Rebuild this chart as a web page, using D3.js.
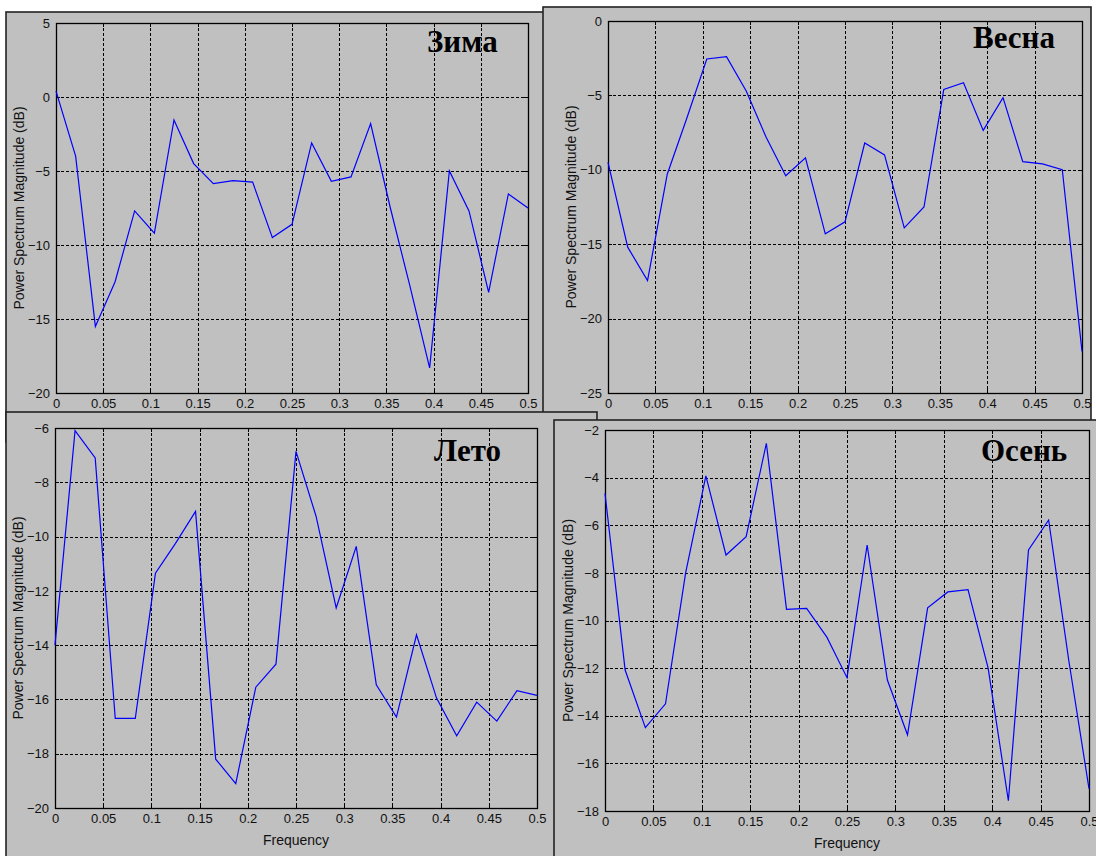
<!DOCTYPE html>
<html><head><meta charset="utf-8">
<script src="https://cdn.jsdelivr.net/npm/d3@7"></script>
<style>body{margin:0;background:#fff;overflow:hidden} svg{display:block}</style>
</head><body>
<svg id="c" width="1096" height="856"></svg>
<script>
// ---- data ----
const frequency = [0, 0.0208, 0.0417, 0.0625, 0.0833, 0.1042, 0.125, 0.1458, 0.1667, 0.1875,
  0.2083, 0.2292, 0.25, 0.2708, 0.2917, 0.3125, 0.3333, 0.3542, 0.375, 0.3958,
  0.4167, 0.4375, 0.4583, 0.4792, 0.5];
const winter = [0.4, -4.0, -15.5, -12.5, -7.7, -9.2, -1.55, -4.5, -5.85, -5.65, -5.75, -9.5, -8.6,
  -3.1, -5.7, -5.4, -1.8, -7.5, -12.8, -18.3, -5.0, -7.7, -13.2, -6.55, -7.5];
const spring = [-9.5, -15.2, -17.45, -10.3, -6.5, -2.55, -2.4, -4.7, -7.8, -10.4, -9.2, -14.3, -13.5,
  -8.2, -9.0, -13.9, -12.5, -4.6, -4.15, -7.35, -5.15, -9.45, -9.6, -10.0, -22.2];
const summer = [-14.0, -6.1, -7.1, -16.7, -16.7, -11.35, -10.25, -9.07, -18.2, -19.1, -15.55, -14.7, -6.86,
  -9.25, -12.63, -10.36, -15.46, -16.65, -13.62, -15.95, -17.34, -16.1, -16.8, -15.68, -15.85];
const autumn = [-4.66, -12.08, -14.5, -13.5, -8.0, -3.93, -7.25, -6.48, -2.56, -9.53, -9.49, -10.7, -12.4,
  -6.83, -12.5, -14.8, -9.47, -8.8, -8.7, -12.0, -17.57, -7.04, -5.78, -11.7, -17.06];
const seasonTitles = ["Зима", "Весна", "Лето", "Осень"];
const xTickValues = [0, 0.05, 0.1, 0.15, 0.2, 0.25, 0.3, 0.35, 0.4, 0.45, 0.5];
const xTickLabels = ["0", "0.05", "0.1", "0.15", "0.2", "0.25", "0.3", "0.35", "0.4", "0.45", "0.5"];
const yTicksWinter = [5, 0, -5, -10, -15, -20];
const yTicksSpring = [0, -5, -10, -15, -20, -25];
const yTicksSummer = [-6, -8, -10, -12, -14, -16, -18, -20];
const yTicksAutumn = [-2, -4, -6, -8, -10, -12, -14, -16, -18];
const yLabelText = "Power Spectrum Magnitude (dB)";
const xLabelText = "Frequency";

// ---- layout (drawing order = stacking order) ----
const panels = [
  {title: seasonTitles[0], values: winter, yTicks: yTicksWinter,
   frame: {x: 6, y: 12, w: 580, h: 430}, ax: {l: 56, t: 23, r: 528, b: 393}, tt: {x: 427, y: 52}},
  {title: seasonTitles[1], values: spring, yTicks: yTicksSpring,
   frame: {x: 543, y: 7, w: 548, h: 430}, ax: {l: 608, t: 21, r: 1082, b: 393}, tt: {x: 973, y: 48}},
  {title: seasonTitles[2], values: summer, yTicks: yTicksSummer,
   frame: {x: 6, y: 412, w: 591, h: 460}, ax: {l: 55, t: 428, r: 537, b: 808}, tt: {x: 434, y: 461}},
  {title: seasonTitles[3], values: autumn, yTicks: yTicksAutumn,
   frame: {x: 554, y: 420, w: 560, h: 460}, ax: {l: 605, t: 430, r: 1089, b: 811}, tt: {x: 981, y: 461}}
];

const svg = d3.select("#c");
const BG = "#c0c0c0";
const tickFont = "'Liberation Sans', Arial, sans-serif";

panels.forEach(p => {
  const g = svg.append("g");
  g.append("rect").attr("x", p.frame.x).attr("y", p.frame.y)
    .attr("width", p.frame.w).attr("height", p.frame.h)
    .attr("fill", BG).attr("stroke", "#222").attr("stroke-width", 1.6);

  const x = d3.scaleLinear().domain([0, 0.5]).range([p.ax.l, p.ax.r]);
  const y = d3.scaleLinear().domain(d3.extent(p.yTicks)).range([p.ax.b, p.ax.t]);

  // grid
  const grid = g.append("g").attr("stroke", "#000").attr("stroke-width", 1)
    .attr("stroke-dasharray", "3,2").attr("shape-rendering", "crispEdges");
  grid.selectAll("line.gx").data(xTickValues.slice(1, -1)).join("line")
    .attr("x1", d => Math.round(x(d)) + 0.5).attr("x2", d => Math.round(x(d)) + 0.5)
    .attr("y1", p.ax.t).attr("y2", p.ax.b);
  const yIn = p.yTicks.filter(v => v !== d3.min(p.yTicks) && v !== d3.max(p.yTicks));
  grid.selectAll("line.gy").data(yIn).join("line")
    .attr("y1", d => Math.round(y(d)) + 0.5).attr("y2", d => Math.round(y(d)) + 0.5)
    .attr("x1", p.ax.l).attr("x2", p.ax.r);

  // axes with inward ticks
  const fmt = (d) => xTickLabels[xTickValues.indexOf(d)];
  const styleAxis = sel => {
    sel.select(".domain").remove();
    sel.selectAll("line").attr("stroke", "#000").attr("shape-rendering", "crispEdges");
    sel.selectAll("text").attr("fill", "#111").attr("font-family", tickFont).attr("font-size", 13);
  };
  g.append("g").attr("transform", `translate(0,${p.ax.b})`)
    .call(d3.axisBottom(x).tickValues(xTickValues).tickFormat(fmt).tickSizeInner(-4).tickSizeOuter(0).tickPadding(6))
    .call(styleAxis);
  g.append("g").attr("transform", `translate(0,${p.ax.t})`)
    .call(d3.axisTop(x).tickValues(xTickValues).tickFormat("").tickSizeInner(-4).tickSizeOuter(0))
    .call(styleAxis);
  g.append("g").attr("transform", `translate(${p.ax.l},0)`)
    .call(d3.axisLeft(y).tickValues(p.yTicks).tickFormat(d3.format("d")).tickSizeInner(-4).tickSizeOuter(0).tickPadding(6))
    .call(styleAxis);
  g.append("g").attr("transform", `translate(${p.ax.r},0)`)
    .call(d3.axisRight(y).tickValues(p.yTicks).tickFormat("").tickSizeInner(-4).tickSizeOuter(0))
    .call(styleAxis);

  // box
  g.append("rect").attr("x", p.ax.l + 0.5).attr("y", p.ax.t + 0.5)
    .attr("width", p.ax.r - p.ax.l).attr("height", p.ax.b - p.ax.t)
    .attr("fill", "none").attr("stroke", "#000").attr("stroke-width", 1.3);

  // labels
  g.append("text").attr("transform", `translate(${p.ax.l - 37},${(p.ax.t + p.ax.b) / 2}) rotate(-90)`)
    .attr("text-anchor", "middle").attr("dy", "0.35em")
    .attr("font-family", tickFont).attr("font-size", 14).attr("fill", "#111").text(yLabelText);
  g.append("text").attr("x", (p.ax.l + p.ax.r) / 2).attr("y", p.ax.b + 32).attr("dy", "0.35em")
    .attr("text-anchor", "middle")
    .attr("font-family", tickFont).attr("font-size", 14).attr("fill", "#111").text(xLabelText);

  // series
  const line = d3.line().x((d, i) => x(frequency[i])).y(d => y(d));
  g.append("path").datum(p.values).attr("d", line)
    .attr("fill", "none").attr("stroke", "#0000ff").attr("stroke-width", 1.2);

  // title
  g.append("text").attr("x", p.tt.x).attr("y", p.tt.y)
    .attr("font-family", "'Liberation Serif', 'Times New Roman', serif")
    .attr("font-weight", "bold").attr("font-size", 31).attr("fill", "#000").text(p.title);
});
</script>
</body></html>
